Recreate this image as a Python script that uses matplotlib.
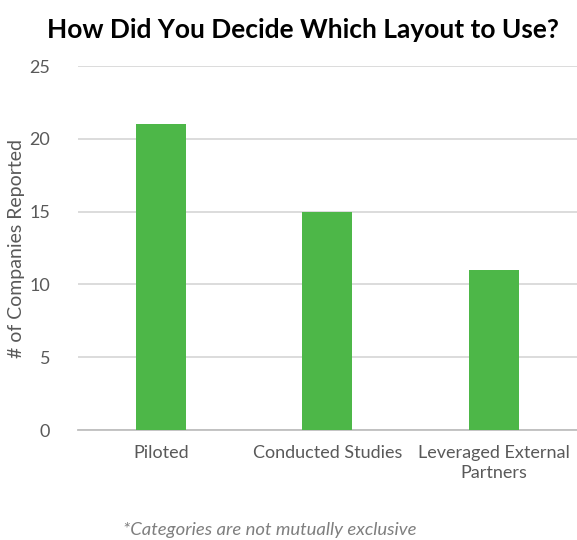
import matplotlib
matplotlib.use("Agg")
import matplotlib.pyplot as plt

categories = ["Piloted", "Conducted Studies", "Leveraged External\nPartners"]
values = [21, 15, 11]
yticks = [0, 5, 10, 15, 20, 25]

plt.rcParams['font.family'] = ['Lato', 'DejaVu Sans']

fig = plt.figure(figsize=(5.77, 5.40), dpi=100)
ax = fig.add_axes([0.135, 0.2037, 0.865, 0.674])

x = range(len(categories))
ax.bar(x, values, width=0.3, color="#4DB748", zorder=3)
ax.set_xlim(-0.5, 2.5)
ax.set_ylim(0, 25)
ax.set_yticks(yticks)
ax.set_xticks(list(x))
ax.set_xticklabels(categories, fontsize=13, color="#595959", linespacing=1.25)
ax.tick_params(axis='y', labelsize=13, labelcolor="#595959", length=0, pad=20)
ax.tick_params(axis='x', length=0, pad=11)
ax.grid(axis='y', color="#d9d9d9", linewidth=1.3, zorder=0)
for s in ["top", "right", "left"]:
    ax.spines[s].set_visible(False)
ax.spines["bottom"].set_color("#bfbfbf")
ax.spines["bottom"].set_linewidth(1.3)
ax.set_ylabel("# of Companies Reported", fontsize=14, color="#595959")
ax.yaxis.set_label_coords(-0.105, 0.5)

fig.text(0.525, 0.945, "How Did You Decide Which Layout to Use?", ha="center", va="center",
         fontsize=19, fontweight="bold", color="#000000")
fig.text(0.468, 0.018, "*Categories are not mutually exclusive", ha="center", va="center",
         fontsize=13.3, style="italic", color="#7f7f7f")

fig.savefig("out.png", dpi=100)
